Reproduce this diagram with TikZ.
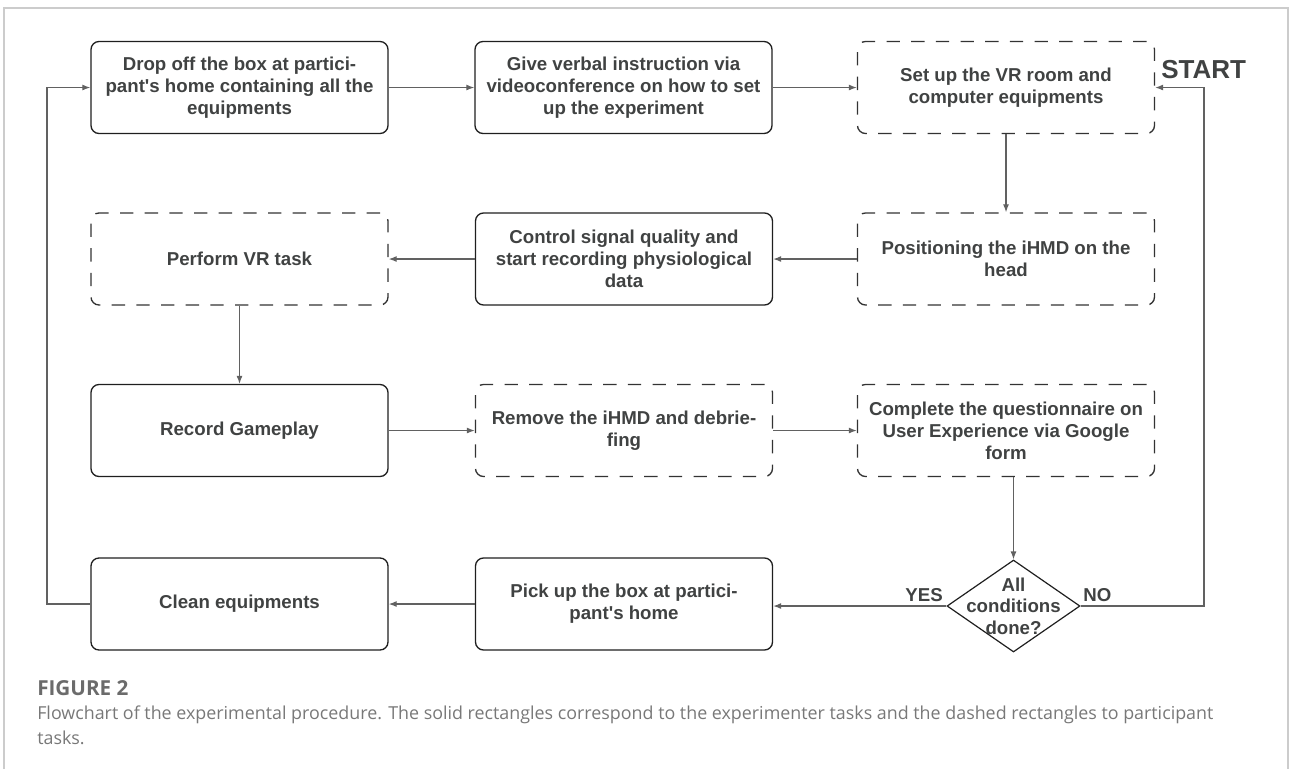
\documentclass[tikz,border=0pt]{standalone}
\usepackage{fontspec}
\setmainfont{Liberation Sans}
\newfontfamily\capfont{Open Sans}
\usetikzlibrary{shapes.geometric,arrows.meta,positioning}

\begin{document}
\begin{tikzpicture}[x=0.75pt,y=-0.75pt,
  task/.style={draw=cbd,line width=1pt,rounded corners=6pt,minimum width=222.75pt,minimum height=69pt,inner sep=0pt,align=center,text=ctx,font=\fontsize{14}{16.6}\selectfont\bfseries},
  ptask/.style={task,draw=cdb,dash pattern=on 10pt off 8.5pt},
  cond/.style={draw=cbd,line width=0.9pt,shape=diamond,minimum width=99.75pt,minimum height=69pt,inner sep=0pt},
  lbl/.style={inner sep=0pt,text=ctx,font=\fontsize{14}{16.2}\selectfont\bfseries},
  post/.style={-{Latex[length=6pt,width=4.5pt]},draw=ced,line width=0.9pt}]
%
\useasboundingbox (0,0) rectangle (1290,769);
%
\definecolor{cbd}{rgb}{0.12,0.12,0.12}
\definecolor{cdb}{rgb}{0.2,0.2,0.2}
\definecolor{ctx}{rgb}{0.25,0.26,0.26}
\definecolor{ced}{rgb}{0.38,0.38,0.38}
\definecolor{cfr}{rgb}{0.8,0.8,0.8}
\definecolor{ccp}{rgb}{0.47,0.47,0.47}
\definecolor{cfg}{rgb}{0.42,0.42,0.42}
%
\draw[cfr,line width=0.9pt] (4,769) -- (4,8) -- (1288,8) -- (1288,769);
%
\node[task] (v1) at (239.5,87.5) {Drop off the box at partici-\\pant\textquotesingle s home containing all the\\equipments};
\node[task] (v2) at (623.5,87.5) {Give verbal instruction via\\videoconference on how to set\\up the experiment};
\node[ptask] (v3) at (1006,87.5) {Set up the VR room and\\computer equipments};
\node[task] (v4) at (624,259) {Control signal quality and\\start recording physiological\\data};
\node[ptask] (v5) at (1006,259) {Positioning the iHMD on the\\head};
\node[ptask] (v6) at (239.5,259) {Perform VR task};
\node[task] (v7) at (239.5,430.5) {Record Gameplay};
\node[ptask] (v8) at (624,430.5) {Remove the iHMD and debrie-\\fing};
\node[ptask] (v9) at (1006,430.5) {Complete the questionnaire on\\User Experience via Google\\form};
\node[task] (v10) at (239.5,604) {Clean equipments};
\node[task] (v11) at (624,604) {Pick up the box at partici-\\pant\textquotesingle s home};
\node[cond,label={[lbl,align=center]center:{All\\conditions\\done?}}] (v12) at (1013.5,606) {};
%
\node[lbl,anchor=west,text=ctx,font=\fontsize{19.5}{22}\selectfont\bfseries] (v0) at (1161,70) {START};
\node[lbl,anchor=east] (y1) at (943,595) {YES};
\node[lbl,anchor=west] (n1) at (1083,595) {NO};
%
\coordinate (c0) at (47,0);
\coordinate (c1) at (1204,0);
\draw[post] (v1) -- (v2);
\draw[post] (v2) -- (v3);
\draw[post] (v3) -- (v5);
\draw[post] (v5) -- (v4);
\draw[post] (v4) -- (v6);
\draw[post] (v6) -- (v7);
\draw[post] (v7) -- (v8);
\draw[post] (v8) -- (v9);
\draw[post] (v12.north |- v9.south) -- (v12.north);
\draw[post] (v12.west) -- (v11.east |- v12.west);
\draw[post] (v11) -- (v10);
\draw[post] (v10.west) -- (v10.west -| c0) |- (v1.west);
\draw[post] (v12.east) -- (v12.east -| c1) |- (v3.east);
%
\node[anchor=base west,inner sep=0pt,text=cfg,font=\capfont\fontsize{15.5}{18}\selectfont\bfseries] (f0) at (37,695) {FIGURE 2};
\node[anchor=north west,inner sep=0pt,align=left,text=ccp,font=\capfont\fontsize{13.4}{18.75}\selectfont] (f1) at (37,706) {Flowchart of the experimental procedure. The solid rectangles correspond to the experimenter tasks and the dashed rectangles to participant\\tasks.};
%
\end{tikzpicture}
\end{document}
